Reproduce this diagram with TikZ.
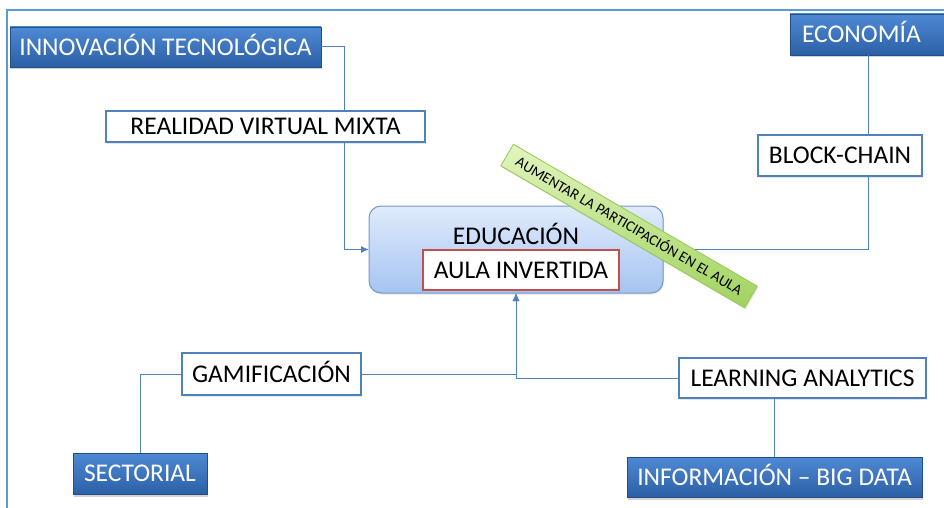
\documentclass[tikz,border=0pt]{standalone}
\usepackage{fontspec}
\setmainfont{Carlito}
\usetikzlibrary{positioning,calc,arrows.meta,shadows}
\definecolor{frameline}{RGB}{91,155,213}
\definecolor{boxline}{RGB}{79,129,189}
\definecolor{topictop}{RGB}{78,137,212}
\definecolor{topicbot}{RGB}{44,96,166}
\definecolor{edutop}{RGB}{224,235,253}
\definecolor{edubot}{RGB}{166,196,240}
\definecolor{aulaline}{RGB}{192,80,77}
\definecolor{goaltop}{RGB}{226,245,190}
\definecolor{goalbot}{RGB}{160,210,95}
\definecolor{goalline}{RGB}{150,200,80}

\begin{document}
\begin{tikzpicture}[x=1pt,y=-1pt,
				every node/.style={font=\fontsize{25.5}{30}\selectfont,inner sep=0pt,outer sep=0pt,text height=16.4pt,text depth=0pt},
				topic/.style={draw=topicbot!80!black,line width=0.6pt,top color=topictop,bottom color=topicbot,text=white,
					drop shadow={shadow xshift=1pt,shadow yshift=-2.5pt,opacity=0.35}},
				block/.style={draw=boxline,line width=2pt,fill=white,
					drop shadow={shadow xshift=1pt,shadow yshift=-1.5pt,opacity=0.2}},
				educbox/.style={draw=boxline!80,line width=1pt,rounded corners=12pt,top color=edutop,bottom color=edubot,
					drop shadow={shadow xshift=1pt,shadow yshift=-1.5pt,opacity=0.2}},
				aulabox/.style={draw=aulaline,line width=2pt,fill=white},
				goal/.style={draw=goalline,line width=0.8pt,top color=goaltop,bottom color=goalbot,
					font=\fontsize{15}{17}\selectfont,text height=9.7pt,
					drop shadow={shadow xshift=1pt,shadow yshift=-1.5pt,opacity=0.25}},
				link/.style={draw=boxline,line width=1pt},
				>={Latex[length=8pt,width=7pt]}]
				\useasboundingbox (0,0) rectangle (944,508);
				\clip (0,0) rectangle (944,508);
				\draw[frameline,line width=2.2pt] (7,10) rectangle (980,540);

				\node[topic,minimum width=311pt,minimum height=40pt]  (innov)  at (165.5,47)  {INNOVACIÓN TECNOLÓGICA};
				\node[block,minimum width=319pt,minimum height=31pt]  (real)   at (265.5,126.5) {REALIDAD VIRTUAL MIXTA};
				\node[topic,anchor=west,text width=132pt,inner xsep=12pt,minimum height=41pt] (econ) at (790,34.5) {ECONOMÍA};
				\node[block,minimum width=164pt,minimum height=41pt]  (chain)  at (840,155.5) {BLOCK-CHAIN};
				\node[educbox,minimum width=294pt,minimum height=87pt] (educ) at (516,249.5) {};
				\node                                                 (edutxt) at (516,236)   {EDUCACIÓN};
				\node[aulabox,minimum width=196pt,minimum height=40pt] (aula) at (521,270)    {AULA INVERTIDA};
				\node[block,minimum width=179pt,minimum height=42pt]  (gami)   at (271.5,374) {GAMIFICACIÓN};
				\node[block,minimum width=247pt,minimum height=40pt]  (learn)  at (802.5,378) {LEARNING ANALYTICS};
				\node[topic,minimum width=134pt,minimum height=41pt]  (sect)   at (140,473.5) {SECTORIAL};
				\node[topic,minimum width=295pt,minimum height=40pt]  (info)   at (774.5,477) {INFORMACIÓN – BIG DATA};
				\coordinate (bend) at (344,47);

				\draw[link]    (innov) -- (bend) -- (bend |- real.north);
				\draw[link,->] (bend |- real.south) |- (educ);
				\draw[link]    (econ) -- (econ |- chain.north);
				\draw[link]    (chain.south -| econ) |- (educ);
				\draw[link,->] (gami) -| (educ);
				\draw[link,->] (learn) -| (educ);
				\draw[link]    (gami) -| (sect);
				\draw[link]    (learn.south -| info) -- (info);

				\node[goal,rotate=-30.2,minimum width=282pt,minimum height=25pt] (aim) at (629,226) {AUMENTAR LA PARTICIPACIÓN EN EL AULA};
			\end{tikzpicture}
\end{document}
